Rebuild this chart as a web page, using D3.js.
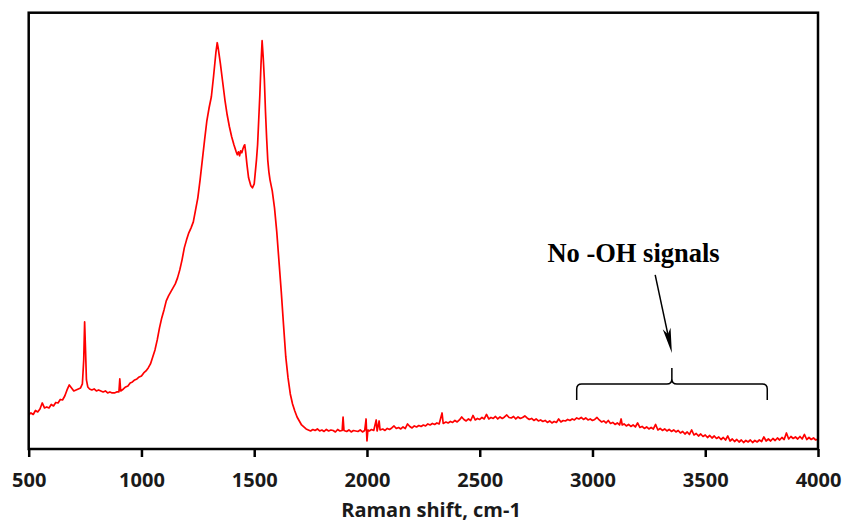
<!DOCTYPE html>
<html>
<head>
<meta charset="utf-8">
<script src="https://cdn.jsdelivr.net/npm/d3@7"></script>
<style>
  html, body { margin: 0; padding: 0; background: #fff; }
  svg { display: block; }
  .tick text, .axis-title { font-family: "Open Sans", "DejaVu Sans", sans-serif; font-weight: 700; fill: #1a1a1a; }
  .note { font-family: "Liberation Serif", "Times New Roman", serif; font-weight: 700; fill: #000; }
</style>
</head>
<body>
<svg id="chart" width="846" height="522"></svg>
<script>
// Raman spectrum: shift (cm-1) and intensity (counts)
const ramanShift = [
  500, 510, 520, 530, 540, 550, 560, 570, 580, 590,
  600, 610, 620, 630, 640, 650, 660, 670, 680, 690,
  700, 710, 720, 730, 738, 744, 748, 752, 756, 762,
  770, 780, 790, 800, 810, 820, 830, 840, 850, 860,
  870, 880, 890, 900, 904, 908, 920, 930, 940, 950,
  960, 970, 980, 990, 1000, 1010, 1020, 1030, 1040, 1050,
  1060, 1070, 1080, 1090, 1100, 1110, 1120, 1130, 1140, 1150,
  1160, 1170, 1180, 1190, 1200, 1210, 1220, 1230, 1240, 1250,
  1260, 1270, 1280, 1290, 1300, 1310, 1320, 1330, 1336, 1340,
  1350, 1360, 1370, 1380, 1390, 1400, 1410, 1420, 1425, 1430,
  1435, 1440, 1445, 1450, 1455, 1458, 1462, 1468, 1475, 1485,
  1492, 1500, 1505, 1510, 1515, 1520, 1525, 1530, 1535, 1540,
  1545, 1550, 1555, 1560, 1565, 1570, 1580, 1590, 1600, 1610,
  1620, 1630, 1640, 1650, 1660, 1670, 1680, 1690, 1700, 1710,
  1720, 1730, 1740, 1750, 1760, 1770, 1780, 1790, 1800, 1810,
  1820, 1830, 1840, 1850, 1860, 1870, 1880, 1890, 1894, 1898,
  1910, 1920, 1930, 1940, 1950, 1960, 1970, 1980, 1990, 1996,
  2000, 2004, 2010, 2020, 2030, 2041, 2045, 2054, 2058, 2070,
  2080, 2090, 2100, 2110, 2120, 2130, 2140, 2150, 2160, 2170,
  2180, 2190, 2200, 2210, 2220, 2230, 2240, 2250, 2260, 2270,
  2280, 2290, 2300, 2310, 2320, 2333, 2338, 2350, 2360, 2370,
  2380, 2390, 2400, 2410, 2420, 2430, 2440, 2450, 2460, 2470,
  2480, 2490, 2500, 2510, 2520, 2530, 2540, 2550, 2560, 2570,
  2580, 2590, 2600, 2610, 2620, 2630, 2640, 2650, 2660, 2670,
  2680, 2690, 2700, 2710, 2720, 2730, 2740, 2750, 2760, 2770,
  2780, 2790, 2800, 2810, 2820, 2830, 2840, 2850, 2860, 2870,
  2880, 2890, 2900, 2910, 2920, 2930, 2940, 2950, 2960, 2970,
  2980, 2990, 3000, 3010, 3020, 3030, 3040, 3050, 3060, 3070,
  3080, 3090, 3100, 3110, 3120, 3127, 3132, 3140, 3150, 3160,
  3170, 3180, 3190, 3200, 3210, 3220, 3230, 3240, 3250, 3260,
  3270, 3280, 3290, 3300, 3310, 3320, 3330, 3340, 3350, 3360,
  3370, 3380, 3390, 3400, 3410, 3420, 3430, 3440, 3450, 3460,
  3470, 3480, 3490, 3500, 3510, 3520, 3530, 3540, 3550, 3560,
  3570, 3580, 3590, 3600, 3610, 3620, 3630, 3640, 3650, 3660,
  3670, 3680, 3690, 3700, 3710, 3720, 3730, 3740, 3750, 3760,
  3770, 3780, 3790, 3800, 3810, 3820, 3830, 3840, 3850, 3860,
  3870, 3880, 3890, 3900, 3910, 3920, 3930, 3940, 3950, 3960,
  3970, 3980, 3990, 4000
];

const intensity = [
  340, 360, 345, 385, 370, 400, 460, 410, 420, 410,
  445, 430, 465, 460, 495, 490, 530, 590, 640, 610,
  580, 590, 600, 610, 650, 890, 1270, 990, 690, 620,
  600, 590, 600, 580, 590, 580, 570, 580, 560, 570,
  560, 560, 570, 570, 700, 580, 600, 620, 630, 660,
  670, 690, 700, 720, 730, 760, 780, 810, 850, 920,
  990, 1090, 1210, 1310, 1390, 1480, 1530, 1570, 1610, 1650,
  1710, 1790, 1890, 2010, 2090, 2160, 2210, 2270, 2390, 2510,
  2690, 2890, 3090, 3280, 3410, 3520, 3730, 3960, 4060, 4010,
  3850, 3670, 3490, 3340, 3220, 3120, 3040, 2970, 2940, 2970,
  2930, 2980, 2960, 3000, 3030, 3040, 2970, 2840, 2710, 2630,
  2610, 2650, 2770, 2890, 3040, 3290, 3540, 3840, 4080, 3910,
  3690, 3370, 3110, 2890, 2770, 2690, 2580, 2410, 2170, 1870,
  1570, 1240, 920, 710, 550, 450, 380, 320, 280, 240,
  220, 200, 190, 180, 195, 185, 200, 180, 190, 175,
  195, 180, 190, 185, 170, 195, 180, 185, 320, 185,
  175, 190, 170, 185, 180, 175, 190, 170, 185, 300,
  80, 190, 180, 195, 185, 290, 180, 280, 190, 200,
  185, 205, 195, 210, 230, 205, 215, 200, 220, 205,
  250, 225, 210, 230, 220, 235, 225, 240, 230, 250,
  240, 255, 245, 260, 250, 360, 255, 270, 260, 275,
  265, 285, 270, 290, 320, 295, 280, 300, 285, 335,
  290, 305, 295, 315, 300, 345, 300, 315, 305, 325,
  300, 320, 305, 320, 340, 315, 310, 325, 300, 320,
  305, 315, 330, 310, 295, 305, 285, 300, 280, 290,
  275, 285, 265, 280, 260, 275, 265, 300, 270, 285,
  280, 295, 285, 300, 290, 310, 300, 315, 295, 310,
  290, 300, 285, 295, 315, 290, 270, 280, 260, 285,
  255, 265, 245, 260, 240, 300, 240, 250, 230, 245,
  225, 240, 220, 260, 215, 225, 205, 220, 200, 215,
  200, 245, 190, 205, 185, 200, 180, 195, 175, 190,
  170, 185, 160, 175, 150, 170, 145, 190, 140, 155,
  130, 150, 125, 140, 115, 135, 110, 130, 105, 120,
  95, 115, 90, 130, 80, 100, 75, 95, 70, 90,
  65, 85, 70, 90, 65, 85, 70, 90, 75, 120,
  80, 100, 80, 105, 85, 110, 90, 115, 95, 160,
  100, 125, 105, 120, 100, 125, 100, 145, 95, 115,
  95, 110, 90, 100
];

const xTicks = [500, 1000, 1500, 2000, 2500, 3000, 3500, 4000];
const xDomain = [500, 4000];
const yDomain = [0, 4360];
const xTitle = "Raman shift, cm-1";

// Annotation marking the empty O–H stretching region
const noteText = "No -OH signals";
const notePos = [2800, 1870];            // label start (shift, intensity)
const arrowFrom = [3278, 1740];
const arrowTo = [3352, 960];
const braceSpan = [2930, 3775];
const braceTip = 3352;
const braceLevels = { ends: 490, bar: 650, tip: 810 };

const svg = d3.select("#chart");
const W = 846, H = 522;
const plot = { left: 28.7, right: 818, top: 12.7, bottom: 449 };

const x = d3.scaleLinear().domain(xDomain).range([plot.left, plot.right]);
const y = d3.scaleLinear().domain(yDomain).range([plot.bottom, plot.top]);

svg.append("rect").attr("width", W).attr("height", H).attr("fill", "#fff");

const points = ramanShift.map((s, i) => ({ s, v: intensity[i] }));

// spectrum trace
svg.append("path")
  .datum(points)
  .attr("fill", "none")
  .attr("stroke", "#ff0000")
  .attr("stroke-width", 1.7)
  .attr("stroke-linejoin", "round")
  .attr("d", d3.line().x(d => x(d.s)).y(d => y(d.v)));

// x axis ticks and labels
const xAxis = d3.axisBottom(x)
  .tickValues(xTicks)
  .tickSize(8)
  .tickPadding(16)
  .tickFormat(d3.format("d"));

const gx = svg.append("g")
  .attr("transform", `translate(0,${plot.bottom})`)
  .call(xAxis);
gx.select(".domain").remove();
gx.selectAll(".tick line").attr("stroke", "#000").attr("stroke-width", 2.5);
gx.selectAll(".tick text").attr("font-size", 20).attr("fill", "#1a1a1a");

// plot frame
svg.append("rect")
  .attr("x", plot.left).attr("y", plot.top)
  .attr("width", plot.right - plot.left)
  .attr("height", plot.bottom - plot.top)
  .attr("fill", "none")
  .attr("stroke", "#000")
  .attr("stroke-width", 2.5);

// axis title
svg.append("text")
  .attr("class", "axis-title")
  .attr("x", 431).attr("y", 517)
  .attr("text-anchor", "middle")
  .attr("font-size", 20)
  .text(xTitle);

// annotation label
svg.append("text")
  .attr("class", "note")
  .attr("x", x(notePos[0])).attr("y", y(notePos[1]))
  .attr("font-size", 26.5)
  .text(noteText);

// arrow
const ax0 = x(arrowFrom[0]), ay0 = y(arrowFrom[1]);
const ax1 = x(arrowTo[0]), ay1 = y(arrowTo[1]);
const len = Math.hypot(ax1 - ax0, ay1 - ay0);
const ux = (ax1 - ax0) / len, uy = (ay1 - ay0) / len;
const nx = -uy, ny = ux;
const headLen = 25, headHalf = 4, notch = 19;
svg.append("line")
  .attr("x1", ax0).attr("y1", ay0)
  .attr("x2", ax1 - ux * notch).attr("y2", ay1 - uy * notch)
  .attr("stroke", "#000").attr("stroke-width", 1.5);
svg.append("path")
  .attr("d", `M${ax1},${ay1}
    L${ax1 - ux * headLen + nx * headHalf},${ay1 - uy * headLen + ny * headHalf}
    L${ax1 - ux * notch},${ay1 - uy * notch}
    L${ax1 - ux * headLen - nx * headHalf},${ay1 - uy * headLen - ny * headHalf}Z`)
  .attr("fill", "#000");

// curly brace over the region
const bl = x(braceSpan[0]), br = x(braceSpan[1]), bc = x(braceTip);
const yb = y(braceLevels.ends), yh = y(braceLevels.bar), yt = y(braceLevels.tip);
const r = 5;
svg.append("path")
  .attr("d", `M${bl},${yb} L${bl},${yh + r} Q${bl},${yh} ${bl + r},${yh}
    L${bc - r},${yh} Q${bc},${yh} ${bc},${yh - r} L${bc},${yt}
    M${bc},${yh - r} Q${bc},${yh} ${bc + r},${yh}
    L${br - r},${yh} Q${br},${yh} ${br},${yh + r} L${br},${yb}`)
  .attr("fill", "none")
  .attr("stroke", "#000")
  .attr("stroke-width", 1.5);
</script>
</body>
</html>
